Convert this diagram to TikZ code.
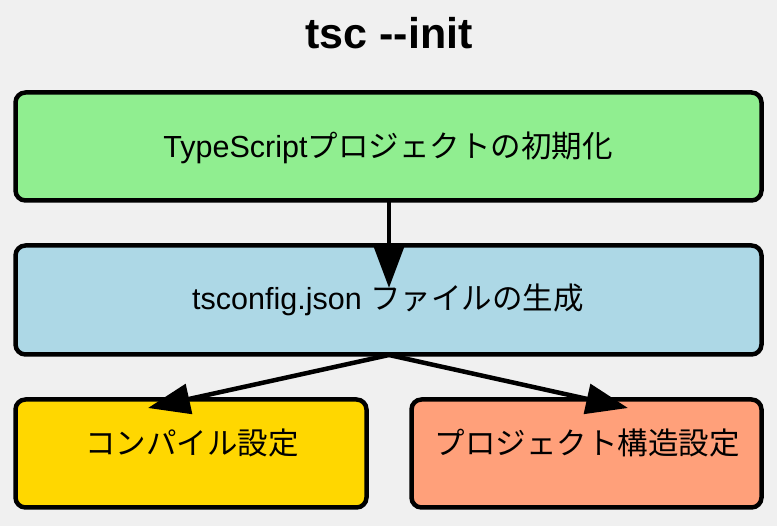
\documentclass[tikz,border=0pt]{standalone}
\usepackage{fontspec}
\setmainfont{Liberation Sans}
\newfontfamily\cjk{Noto Sans CJK JP}
\usetikzlibrary{arrows.meta}
\definecolor{bgc}{HTML}{F0F0F0}
\definecolor{cgreen}{HTML}{90EE90}
\definecolor{cblue}{HTML}{ADD8E6}
\definecolor{cgold}{HTML}{FFD700}
\definecolor{csalmon}{HTML}{FFA07A}
\tikzset{
  boxstyle/.style={draw=black, line width=4.5pt, rounded corners=10pt},
  lbl/.style={font=\fontsize{30.5}{34}\selectfont, text=black, anchor=center},
  conn/.style={draw=black, line width=4.5pt, -{Triangle[length=42pt,width=30pt]}},
}
\begin{document}
\begin{tikzpicture}[x=1pt,y=-1pt]
\fill[bgc] (0,0) rectangle (777,526);
\useasboundingbox (0,0) rectangle (777,526);
\node[font=\bfseries\fontsize{43}{48}\selectfont] (title) at (389,33) {tsc {-}{-}init};
\draw[boxstyle, fill=cgreen] (15.5,92.5) rectangle (761.5,200.5);
\draw[boxstyle, fill=cblue] (15.5,245.5) rectangle (761.5,354.5);
\draw[boxstyle, fill=cgold] (15.5,399.5) rectangle (366.5,507.5);
\draw[boxstyle, fill=csalmon] (411.5,399.5) rectangle (761.5,507.5);
\node[lbl] (init) at (388,148) {TypeScript{\cjk プロジェクトの初期化}};
\node[lbl] (gen) at (388,300) {tsconfig.json {\cjk ファイルの生成}};
\node[lbl] (comp) at (192,443) {\cjk コンパイル設定};
\node[lbl] (proj) at (587,443) {\cjk プロジェクト構造設定};
\coordinate (a1s) at (389,200.5);
\coordinate (a1e) at (389,288);
\coordinate (a2s) at (389,355);
\coordinate (a2e) at (148,408);
\coordinate (a3e) at (628,408);
\draw[conn] (a1s) -- (a1e);
\draw[conn] (a2s) -- (a2e);
\draw[conn] (a2s) -- (a3e);
\end{tikzpicture}
\end{document}
